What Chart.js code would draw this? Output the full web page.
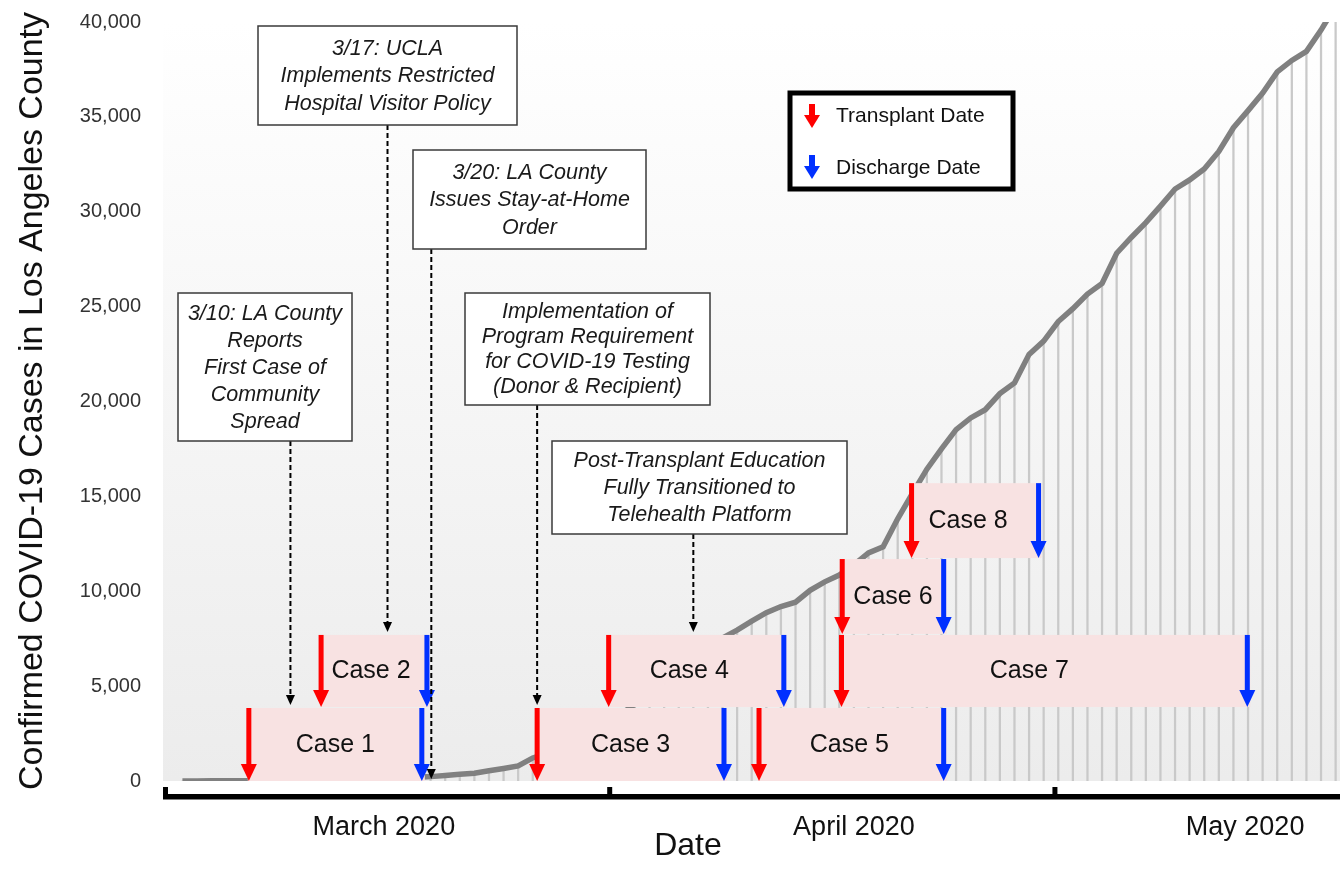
<!DOCTYPE html>
<html>
<head>
<meta charset="utf-8">
<title>COVID-19 cases in LA County and transplant timeline</title>
<script src="https://cdn.jsdelivr.net/npm/chart.js@4.4.1/dist/chart.umd.min.js"></script>
<style>
  html, body { margin: 0; padding: 0; background: #fff; }
  #wrap { width: 1343px; height: 885px; }
</style>
</head>
<body>
<div id="wrap"><canvas id="chart" width="1343" height="885"></canvas></div>
<script>
// x is a day number: 1 = 1 March 2020, 32 = 1 April, 62 = 1 May
const firstDay = 3;
// cumulative confirmed cases, one value per day from firstDay
const cumulativeCases = [
  1, 1, 7, 7, 11, 13, 14, 16, 17, 27, 32, 40, 53, 69, 94, 144, 190, 231, 292, 351,
  409, 536, 662, 799, 1216, 1465, 1804, 2136, 2474, 3011,
  3518, 4045, 4566, 5277, 5940, 6360, 6910, 7530, 7955, 8430, 8873, 9192, 9420, 10047, 10496,
  10854, 11391, 12021, 12341, 13816, 15140, 16435, 17508, 18517, 19133, 19567, 20417, 20976, 22485, 23182,
  24215, 24894, 25662, 26217, 27815, 28644, 29427, 30296, 31197, 31677, 32258, 33180, 34428, 35329, 36259,
  37374, 37974, 38451, 39573, 40857
];

const monthLabels = ['March 2020', 'April 2020', 'May 2020'];
const monthLabelDays = [16.8, 49, 75.8];
const monthEdgeDays = [1.67, 32.1, 62.6];
const xTitle = 'Date';

const yMax = 40000;
const yStep = 5000;
const yTitle = 'Confirmed COVID-19 Cases in Los Angeles County';

// transplant cases: dates as day numbers, vertical band in case units
const caseNames = ['Case 1', 'Case 2', 'Case 3', 'Case 4', 'Case 5', 'Case 6', 'Case 7', 'Case 8'];
const transplantDays = [7.55, 12.5, 27.3, 32.2, 42.5, 48.2, 48.15, 52.95];
const dischargeDays = [19.4, 19.75, 40.1, 44.2, 55.15, 55.15, 75.95, 61.65];
const caseLow = [0, 3900, 0, 3900, 0, 7750, 3900, 11750];
const caseHigh = [3900, 7750, 3900, 7750, 3900, 11750, 7750, 15750];

// timeline events
const eventTexts = [
  ['3/10: LA County', 'Reports', 'First Case of', 'Community', 'Spread'],
  ['3/17: UCLA', 'Implements Restricted', 'Hospital Visitor Policy'],
  ['3/20: LA County', 'Issues Stay-at-Home', 'Order'],
  ['Implementation of', 'Program Requirement', 'for COVID-19 Testing', '(Donor & Recipient)'],
  ['Post-Transplant Education', 'Fully Transitioned to', 'Telehealth Platform']
];
const eventDays = [10.4, 17.05, 20.05, 27.3, 38];
const eventTargets = [3900, 7750, 0, 3900, 7750];

const legendLabels = ['Transplant Date', 'Discharge Date'];

// ---- layout / styling ----
const FONT = "'Liberation Sans', Arial, Helvetica, sans-serif";
const RED = '#ff0000';
const BLUE = '#0030ff';
const PINK = '#f8e2e2';
const caseLabelShift = [0, -3, 0, -7, -2, 0, -15, -7];
const eventBoxes = [
  { l: 178, t: 293, r: 352, b: 441 },
  { l: 258, t: 26, r: 517, b: 125 },
  { l: 413, t: 150, r: 646, b: 249 },
  { l: 465, t: 293, r: 710, b: 405 },
  { l: 552, t: 441, r: 847, b: 534 }
];

const points = cumulativeCases.map((v, i) => ({ x: firstDay + i, y: v }));

function downArrow(ctx, x, yTop, yTip, color, shaftW, headW, headL) {
  ctx.fillStyle = color;
  ctx.fillRect(x - shaftW / 2, yTop, shaftW, yTip - headL - yTop + 1);
  ctx.beginPath();
  ctx.moveTo(x - headW / 2, yTip - headL);
  ctx.lineTo(x + headW / 2, yTip - headL);
  ctx.lineTo(x, yTip);
  ctx.closePath();
  ctx.fill();
}

const overlay = {
  id: 'overlay',
  beforeDraw(chart) {
    const { ctx, chartArea: a } = chart;
    const g = ctx.createLinearGradient(0, a.top, 0, a.bottom);
    g.addColorStop(0, '#ffffff');
    g.addColorStop(1, '#ececec');
    ctx.save();
    ctx.fillStyle = g;
    ctx.fillRect(a.left, a.top, a.right - a.left, a.bottom - a.top);
    ctx.restore();
  },
  afterDatasetsDraw(chart) {
    const { ctx, chartArea: a } = chart;
    const xs = chart.scales.x, ys = chart.scales.y;
    ctx.save();

    // case boxes
    caseNames.forEach((name, i) => {
      const x0 = xs.getPixelForValue(transplantDays[i]);
      const x1 = xs.getPixelForValue(dischargeDays[i]);
      const yb = ys.getPixelForValue(caseLow[i]);
      const yt = ys.getPixelForValue(caseHigh[i]);
      ctx.fillStyle = PINK;
      ctx.fillRect(x0 - 1, yt + 1, x1 - x0 + 4, yb - yt - 1);
    });
    caseNames.forEach((name, i) => {
      const x0 = xs.getPixelForValue(transplantDays[i]);
      const x1 = xs.getPixelForValue(dischargeDays[i]);
      const yb = ys.getPixelForValue(caseLow[i]);
      const yt = ys.getPixelForValue(caseHigh[i]);
      ctx.fillStyle = '#111';
      ctx.font = '25px ' + FONT;
      ctx.textAlign = 'center';
      ctx.textBaseline = 'middle';
      ctx.fillText(name, (x0 + x1) / 2 + caseLabelShift[i], (yt + yb) / 2 + 1);
      downArrow(ctx, x0, yt + 1, yb, RED, 5, 16, 17);
      downArrow(ctx, x1, yt + 1, yb, BLUE, 5, 16, 17);
    });

    // event call-outs with dashed arrows
    eventTexts.forEach((lines, i) => {
      const b = eventBoxes[i];
      const ex = xs.getPixelForValue(eventDays[i]);
      const tip = ys.getPixelForValue(eventTargets[i]) - 2;
      ctx.strokeStyle = '#000';
      ctx.lineWidth = 2;
      ctx.setLineDash([5, 3]);
      ctx.beginPath();
      ctx.moveTo(ex, b.b);
      ctx.lineTo(ex, tip - 8);
      ctx.stroke();
      ctx.setLineDash([]);
      ctx.fillStyle = '#000';
      ctx.beginPath();
      ctx.moveTo(ex - 4.5, tip - 10);
      ctx.lineTo(ex + 4.5, tip - 10);
      ctx.lineTo(ex, tip);
      ctx.closePath();
      ctx.fill();

      ctx.fillStyle = '#fff';
      ctx.fillRect(b.l, b.t, b.r - b.l, b.b - b.t);
      ctx.strokeStyle = '#3a3a3a';
      ctx.lineWidth = 1.5;
      ctx.strokeRect(b.l, b.t, b.r - b.l, b.b - b.t);
      ctx.fillStyle = '#1a1a1a';
      ctx.font = 'italic 21.5px ' + FONT;
      ctx.textAlign = 'center';
      ctx.textBaseline = 'middle';
      const lh = Math.min(27.7, (b.b - b.t - 12) / lines.length);
      const cy = (b.t + b.b) / 2 - (lines.length - 1) * lh / 2;
      lines.forEach((t, k) => ctx.fillText(t, (b.l + b.r) / 2, cy + k * lh + 1));
    });

    // legend box
    ctx.fillStyle = '#fff';
    ctx.fillRect(790, 93, 223, 96);
    ctx.strokeStyle = '#000';
    ctx.lineWidth = 5;
    ctx.strokeRect(790, 93, 223, 96);
    downArrow(ctx, 812, 104, 128, RED, 6, 16, 13);
    downArrow(ctx, 812, 155, 179, BLUE, 6, 16, 13);
    ctx.fillStyle = '#111';
    ctx.font = '21px ' + FONT;
    ctx.textAlign = 'left';
    ctx.textBaseline = 'middle';
    ctx.fillText(legendLabels[0], 836, 116);
    ctx.fillText(legendLabels[1], 836, 168);

    // x axis line with month ticks
    ctx.fillStyle = '#000';
    const axisY = a.bottom + 16;
    ctx.fillRect(a.left, axisY - 3, a.right - a.left, 5.5);
    monthEdgeDays.forEach(d => {
      const tx = xs.getPixelForValue(d);
      ctx.fillRect(tx, axisY - 10, 5, 10);
    });

    // x axis title (sits left of centre in the original)
    ctx.fillStyle = '#111';
    ctx.font = '32px ' + FONT;
    ctx.textAlign = 'center';
    ctx.textBaseline = 'middle';
    ctx.fillText(xTitle, 688, 846);

    // y axis title, slightly condensed like the original
    ctx.save();
    ctx.translate(33, 401);
    ctx.rotate(-Math.PI / 2);
    ctx.font = '33px ' + FONT;
    const w = ctx.measureText(yTitle).width;
    ctx.scale(778 / w, 1);
    ctx.fillStyle = '#111';
    ctx.textAlign = 'center';
    ctx.textBaseline = 'middle';
    ctx.fillText(yTitle, 0, 0);
    ctx.restore();

    ctx.restore();
  }
};

new Chart(document.getElementById('chart'), {
  type: 'line',
  data: {
    datasets: [
      {
        type: 'line',
        data: points,
        borderColor: '#808080',
        borderWidth: 5.5,
        pointRadius: 0,
        tension: 0,
        order: 1
      },
      {
        type: 'bar',
        data: points,
        backgroundColor: '#c9c9c9',
        barThickness: 1.6,
        grouped: false,
        order: 2
      }
    ]
  },
  options: {
    responsive: false,
    animation: false,
    events: [],
    layout: { padding: { left: 0, top: 22, right: 3, bottom: 0 } },
    plugins: { legend: { display: false }, tooltip: { enabled: false } },
    scales: {
      x: {
        type: 'linear',
        offset: false,
        bounds: 'data',
        min: monthEdgeDays[0],
        max: 82.3,
        grid: { display: false, drawTicks: false, offset: false },
        border: { display: false },
        afterFit: s => { s.height = 104; s.paddingLeft = 0; s.paddingRight = 0; },
        afterBuildTicks: s => { s.ticks = monthLabelDays.map(v => ({ value: v })); },
        ticks: {
          autoSkip: false,
          maxRotation: 0,
          padding: 30,
          color: '#111',
          font: { family: FONT, size: 27 },
          callback: (v, i) => monthLabels[i]
        }
      },
      y: {
        min: 0,
        max: yMax,
        grid: { display: false, drawTicks: false },
        border: { display: false },
        afterFit: s => { s.width = 163; s.paddingTop = 0; s.paddingBottom = 0; },
        ticks: {
          stepSize: yStep,
          padding: 22,
          color: '#333',
          font: { family: FONT, size: 20 },
          callback: v => v.toLocaleString('en-US')
        }
      }
    }
  },
  plugins: [overlay]
});
</script>
</body>
</html>
